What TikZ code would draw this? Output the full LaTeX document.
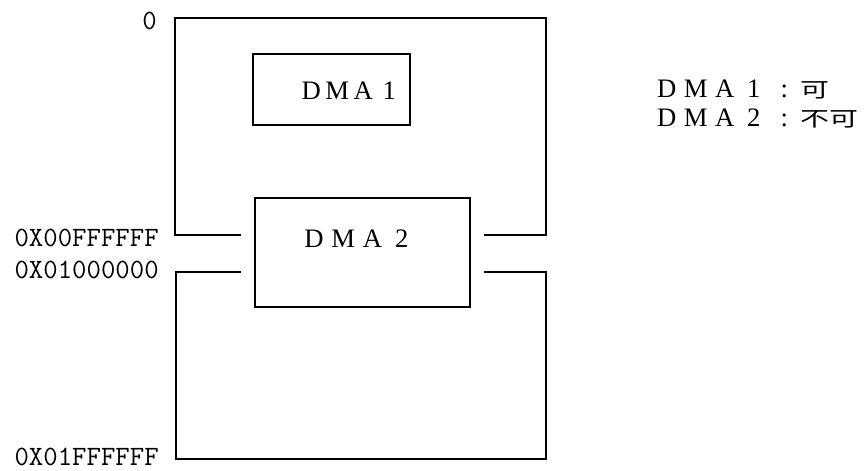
\documentclass[tikz,border=0pt]{standalone}
\usepackage{fontspec}
\setmainfont{Liberation Serif}
\newfontfamily\cjkfont[FakeStretch=1.4]{Noto Sans CJK JP}
\newcommand\chbox[2]{\makebox[#1]{#2}}
\tikzset{
  wall/.style={line width=1.4pt, line cap=rect, line join=miter},
  membox/.style={draw, line width=1.4pt, inner sep=0pt},
  addr/.style={inner sep=0pt, anchor=base east, font=\ttfamily\fontsize{21pt}{24pt}\selectfont},
  dmatext/.style={inner sep=0pt, anchor=base west, font=\fontsize{20pt}{24pt}\selectfont},
}
\begin{document}
\begin{tikzpicture}[x=0.75pt,y=-0.75pt]
\useasboundingbox (0,0) rectangle (865,471);
% DMA boxes
\node[membox, minimum width=117.75pt, minimum height=53.25pt] (dma1) at (331.5,89.5) {};
\node[membox, minimum width=161.25pt, minimum height=81.75pt] (dma2) at (362.5,252.5) {};
\node[dmatext] (dma1t) at (298,99) {\chbox{19.5pt}{D}\chbox{19.5pt}{M}\chbox{19.5pt}{A}\chbox{19.5pt}{1}};
\node[dmatext] (dma2t) at (299,247) {\chbox{22pt}{D}\chbox{22pt}{M}\chbox{22pt}{A}\chbox{22pt}{2}};
% upper region
\coordinate (ul) at (240,235);
\coordinate (ulc) at (175,235);
\coordinate (tl) at (175,18);
\coordinate (tr) at (546,18);
\coordinate (urc) at (546,235);
\coordinate (ur) at (485,235);
\draw[wall] (ul) -- (ulc) -- (tl) -- (tr) -- (urc) -- (ur);
% lower region
\coordinate (ll) at (240,272);
\coordinate (llc) at (176,272);
\coordinate (bl) at (176,459);
\coordinate (br) at (546,459);
\coordinate (lrc) at (546,272);
\coordinate (lr) at (485,272);
\draw[wall] (ll) -- (llc) -- (bl) -- (br) -- (lrc) -- (lr);
% address labels
\node[addr] (a0) at (157,29) {0};
\node[addr] (a1) at (159,246) {0X00FFFFFF};
\node[addr] (a2) at (159,278) {0X01000000};
\node[addr] (a3) at (159,465) {0X01FFFFFF};
% legend
\node[dmatext] (leg1) at (652,97) {\chbox{21.75pt}{D}\chbox{21.75pt}{M}\chbox{21.75pt}{A}\chbox{21.75pt}{1}\chbox{24pt}{:}{\cjkfont\fontsize{15.5pt}{18pt}\selectfont 可}};
\node[dmatext] (leg2) at (652,126) {\chbox{21.75pt}{D}\chbox{21.75pt}{M}\chbox{21.75pt}{A}\chbox{21.75pt}{2}\chbox{24pt}{:}{\cjkfont\fontsize{15.5pt}{18pt}\selectfont 不可}};
\end{tikzpicture}
\end{document}
